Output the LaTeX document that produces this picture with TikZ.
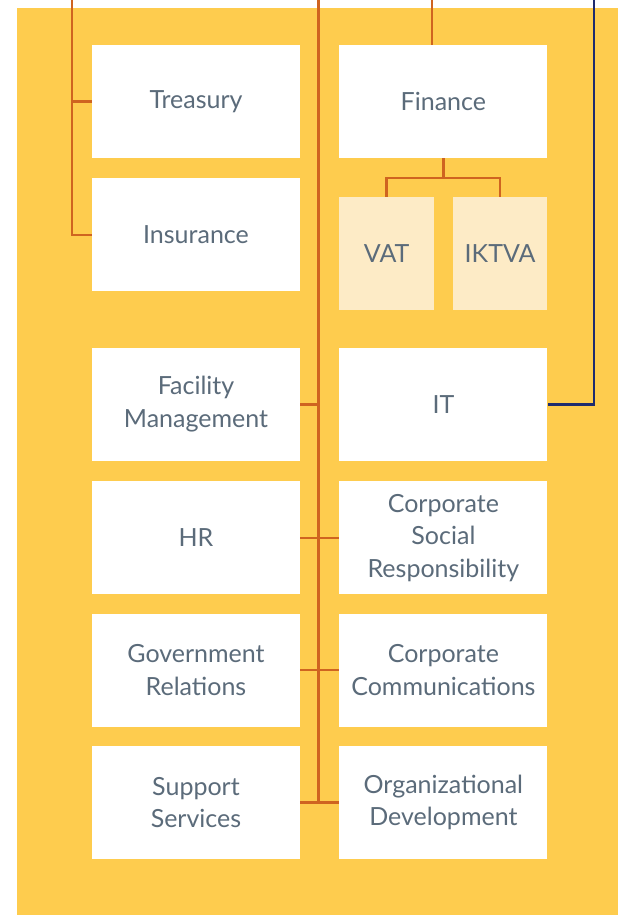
\documentclass[tikz,border=0pt]{standalone}
\usepackage{fontspec}
\setmainfont{Lato}
\usetikzlibrary{positioning}
\definecolor{bgyellow}{HTML}{FECC4E}
\definecolor{paleyellow}{HTML}{FDEBC6}
\definecolor{linkorange}{HTML}{CF6420}
\definecolor{linkblue}{HTML}{1E2B6E}
\definecolor{textgray}{HTML}{5B6B7A}
\begin{document}
\begin{tikzpicture}[
  x=1pt, y=1pt,
  unit/.style={rectangle, fill=white, minimum width=208pt, minimum height=113pt, inner sep=0pt,
    align=center, text=textgray, font=\fontsize{25}{32.5}\selectfont},
  subunit/.style={unit, fill=paleyellow, minimum width=94.5pt},
  link/.style={draw=linkorange, line width=2.4pt},
  node distance=20pt and 39pt
]
\useasboundingbox (0,0) rectangle (618,-915);
\fill[bgyellow] (17,-8) rectangle (618,-915);

\node[unit] (treasury) at (196,-101.5) {Treasury};
\node[unit, right=of treasury] (finance) {Finance};
\node[unit, below=of treasury] (insurance) {Insurance};
\node[subunit, below right=39pt and 0pt of finance.south west, anchor=north west] (vat) {VAT};
\node[subunit, below left=39pt and 0pt of finance.south east, anchor=north east] (iktva) {IKTVA};
\node[unit, below=56pt of insurance] (facility) {Facility\\Management};
\node[unit, right=of facility] (it) {IT};
\node[unit, below=of facility] (hr) {HR};
\node[unit, right=of hr] (csr) {Corporate\\Social\\Responsibility};
\node[unit, below=19pt of hr] (gov) {Government\\Relations};
\node[unit, right=of gov] (comms) {Corporate\\Communications};
\node[unit, below=19pt of gov] (support) {Support\\Services};
\node[unit, right=of support] (orgdev) {Organizational\\Development};

\coordinate (ltop) at (72,0);
\coordinate (ctop) at (318.5,0);
\coordinate (ftop) at (432,0);
\coordinate (btop) at (594,0);
\coordinate[below=20pt of finance.south] (fork);

\draw[link] (ltop) |- (treasury.west);
\draw[link] (ltop) |- (insurance.west);
\draw[link] (ctop) -- (ctop |- support.east);
\draw[link] (facility.east) -- (facility.east -| ctop);
\draw[link] (hr.east) -- (csr.west);
\draw[link] (gov.east) -- (comms.west);
\draw[link] (support.east) -- (orgdev.west);
\draw[link] (ftop) -- (ftop |- finance.north);
\draw[link] (finance.south) -- (fork);
\draw[link] (fork) -| (vat.north);
\draw[link] (fork) -| (iktva.north);
\draw[draw=linkblue, line width=2.4pt] (btop) |- (it.east);
\end{tikzpicture}
\end{document}
